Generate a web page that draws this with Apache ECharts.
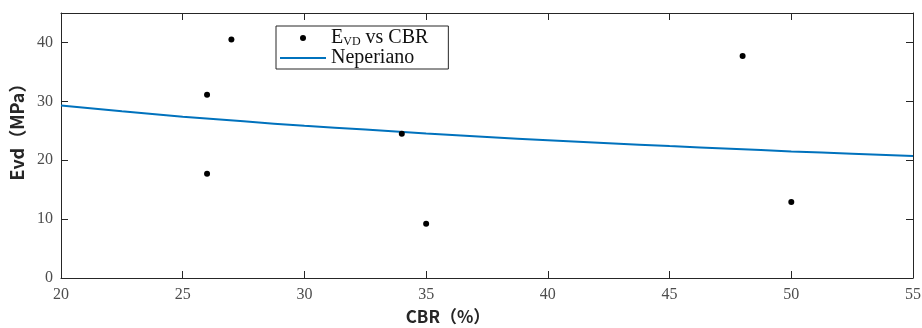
<!DOCTYPE html>
<html>
<head>
<meta charset="utf-8">
<script src="https://cdn.jsdelivr.net/npm/echarts@6/dist/echarts.min.js"></script>
<style>html,body{margin:0;padding:0;background:#fff}#c{width:922px;height:328px}</style>
</head>
<body>
<div id="c"></div>
<script>
// Measured data (CBR %, Evd MPa)
const cbr = [26, 26, 27, 34, 35, 48, 50];
const evd = [31.1, 17.7, 40.5, 24.5, 9.2, 37.7, 12.9];
// Fitted "Neperiano" curve
const fitX = [20, 22.5, 25, 27.5, 30, 32.5, 35, 37.5, 40, 42.5, 45, 47.5, 50, 52.5, 55];
const fitY = [29.3, 28.3, 27.4, 26.6, 25.85, 25.2, 24.55, 23.95, 23.4, 22.9, 22.4, 21.95, 21.5, 21.1, 20.7];
const seriesNames = ['EVD vs CBR', 'Neperiano'];
const xName = 'CBR（%）';
const yName = 'Evd（MPa）';

const chart = echarts.init(document.getElementById('c'), null, {renderer: 'canvas'});
const axisCol = '#262626';
const labelStyle = {color: '#4d4d4d', fontFamily: 'Liberation Serif', fontSize: 16};
function baseAxis(extra) {
  return Object.assign({
    axisLine: {show: true, onZero: false, lineStyle: {color: axisCol, width: 1}},
    axisTick: {show: true, inside: true, length: 7, lineStyle: {color: axisCol}},
    splitLine: {show: false}
  }, extra);
}
chart.setOption({
  animation: false,
  backgroundColor: '#fff',
  grid: {left: 61, right: 9, top: 13, bottom: 50, containLabel: false, outerBoundsMode: 'none'},
  legend: {
    orient: 'vertical', left: 276, top: 26,
    padding: [2, 20, 1, 4], itemGap: 0,
    itemWidth: 46, itemHeight: 6,
    borderColor: '#262626', borderWidth: 1, backgroundColor: '#fff',
    data: [
      {name: seriesNames[0], icon: 'circle', itemStyle: {color: '#000', opacity: 1}},
      {name: seriesNames[1], icon: 'path://M0,0 L46,0 L46,2 L0,2 Z', itemStyle: {color: '#0072BD'}}
    ],
    formatter: function (n) {
      if (n === seriesNames[0]) return '{a|E}{s|VD}{a| vs CBR}';
      return '{a|Neperiano}';
    },
    textStyle: {
      color: '#111', fontFamily: 'Liberation Serif', fontSize: 20, lineHeight: 20,
      rich: {
        a: {fontFamily: 'Liberation Serif', fontSize: 20, color: '#111', lineHeight: 20},
        s: {fontFamily: 'Liberation Serif', fontSize: 12, color: '#111', verticalAlign: 'bottom', padding: [8, 0, 0, 0], lineHeight: 20}
      }
    }
  },
  xAxis: [
    baseAxis({type: 'value', min: 20, max: 55, interval: 5, position: 'bottom',
      name: xName, nameLocation: 'middle', nameGap: 30,
      nameTextStyle: {fontFamily: 'Noto Sans CJK SC', fontWeight: 'bold', fontSize: 17, color: '#262626', padding: [0, 78, 0, 0]},
      axisLabel: Object.assign({margin: 9}, labelStyle)}),
    baseAxis({type: 'value', min: 20, max: 55, interval: 5, position: 'top', axisLabel: {show: false}})
  ],
  yAxis: [
    baseAxis({type: 'value', min: 0, max: 45, interval: 10, position: 'left',
      name: yName, nameLocation: 'middle', nameGap: 26, nameRotate: 90,
      nameTextStyle: {fontFamily: 'Noto Sans CJK SC', fontWeight: 'bold', fontSize: 18, color: '#262626', padding: [0, 0, 0, 36]},
      axisLabel: Object.assign({margin: 8, showMaxLabel: false, formatter: function (v) { return v === 45 ? '' : String(v); }}, labelStyle)}),
    baseAxis({type: 'value', min: 0, max: 45, interval: 10, position: 'right', axisLabel: {show: false}})
  ],
  series: [
    {
      name: seriesNames[0], type: 'scatter', xAxisIndex: 0, yAxisIndex: 0,
      symbol: 'circle', symbolSize: 6,
      itemStyle: {color: '#000', opacity: 1},
      data: cbr.map((x, i) => [x, evd[i]]),
      z: 3
    },
    {
      name: seriesNames[1], type: 'line', xAxisIndex: 0, yAxisIndex: 0,
      symbol: 'none', smooth: true,
      lineStyle: {color: '#0072BD', width: 2},
      itemStyle: {color: '#0072BD'},
      data: fitX.map((x, i) => [x, fitY[i]]),
      z: 2
    }
  ]
});
</script>
</body>
</html>
